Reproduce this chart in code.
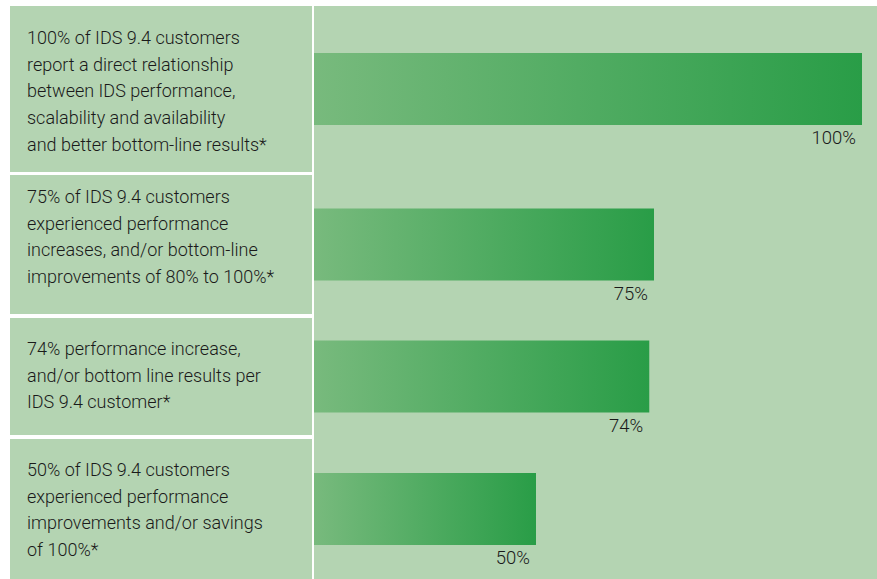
<!DOCTYPE html>
<html>
<head>
<meta charset="utf-8">
<script src="https://cdn.jsdelivr.net/npm/d3@7"></script>
<style>
  html, body { margin: 0; padding: 0; background: #ffffff; }
  #grafica { width: 877px; height: 579px; }
</style>
</head>
<body>
<div id="grafica"></div>
<script>
// datos
porcentajes = [100, 75, 74, 50]
etiquetas   = ['100%', '75%', '74%', '50%']
textos = [
  ['100% of IDS 9.4 customers',
   'report a direct relationship',
   'between IDS performance,',
   'scalability and availability',
   'and better bottom-line results*'],
  ['75% of IDS 9.4 customers',
   'experienced performance',
   'increases, and/or bottom-line',
   'improvements of 80% to 100%*'],
  ['74% performance increase,',
   'and/or bottom line results per',
   'IDS 9.4 customer*'],
  ['50% of IDS 9.4 customers',
   'experienced performance',
   'improvements and/or savings',
   'of 100%*']
]

// layout
ancho_total = 877
alto_total  = 579
filas = [[6, 172], [175, 314], [318, 435], [439, 579]]
primera_linea = [44, 203, 355, 476]
alto_linea = 26.7
izq = { x0: 10, x1: 312 }
der = { x0: 314, x1: 877 }
alto_barra = 72
fuente = 'Roboto, "Liberation Sans", sans-serif'

colorFondo = '#b4d4b2'

svg = d3
        .select('#grafica')
        .append('svg')
        .attr('width', ancho_total)
        .attr('height', alto_total)

defs = svg.append('defs')
grad = defs
        .append('linearGradient')
        .attr('id', 'verde')
        .attr('x1', '0%')
        .attr('x2', '100%')
        .attr('y1', '0%')
        .attr('y2', '0%')
grad.append('stop').attr('offset', '0%').attr('stop-color', '#78ba7d')
grad.append('stop').attr('offset', '100%').attr('stop-color', '#299d47')

// el ancho de las barras en la imagen original no es proporcional,
// por eso la escala tiene varios tramos
x = d3
      .scaleLinear()
      .domain([0, 50, 75, 100])
      .range([der.x0, 536, 654, 862])

// paneles de la izquierda
svg
  .selectAll('rect.panel')
  .data(filas)
  .enter()
  .append('rect')
  .attr('class', 'panel')
  .attr('x', izq.x0)
  .attr('y', (d) => d[0])
  .attr('width', izq.x1 - izq.x0)
  .attr('height', (d) => d[1] - d[0])
  .attr('fill', colorFondo)

// panel de la derecha
svg
  .append('rect')
  .attr('x', der.x0)
  .attr('y', filas[0][0])
  .attr('width', der.x1 - der.x0)
  .attr('height', alto_total - filas[0][0])
  .attr('fill', colorFondo)

textos.forEach((lineas, i) => {
  t = svg
        .append('text')
        .attr('x', 27)
        .attr('y', primera_linea[i])
        .attr('font-family', fuente)
        .attr('font-weight', 300)
        .attr('font-size', '18px')
        .attr('fill', '#1a1a1a')

  lineas.forEach((l, j) => {
    t.append('tspan')
      .attr('x', 27)
      .attr('y', primera_linea[i] + j * alto_linea)
      .text(l)
  })
})

barras = svg
          .selectAll('g.barra')
          .data(porcentajes)
          .enter()
          .append('g')
          .attr('class', 'barra')
          .attr('transform', (d, i) => {
            centro = (filas[i][0] + filas[i][1]) / 2
            return `translate(0, ${centro - alto_barra / 2})`
          })

barras
  .append('rect')
  .attr('x', x(0))
  .attr('y', 0)
  .attr('width', (d) => x(d) - x(0))
  .attr('height', alto_barra)
  .attr('fill', 'url(#verde)')

barras
  .append('text')
  .attr('x', (d) => x(d) - 6)
  .attr('y', alto_barra + 19)
  .attr('text-anchor', 'end')
  .attr('font-family', fuente)
  .attr('font-weight', 300)
  .attr('font-size', '18.5px')
  .attr('fill', '#1a1a1a')
  .text((d, i) => etiquetas[i])
</script>
</body>
</html>
